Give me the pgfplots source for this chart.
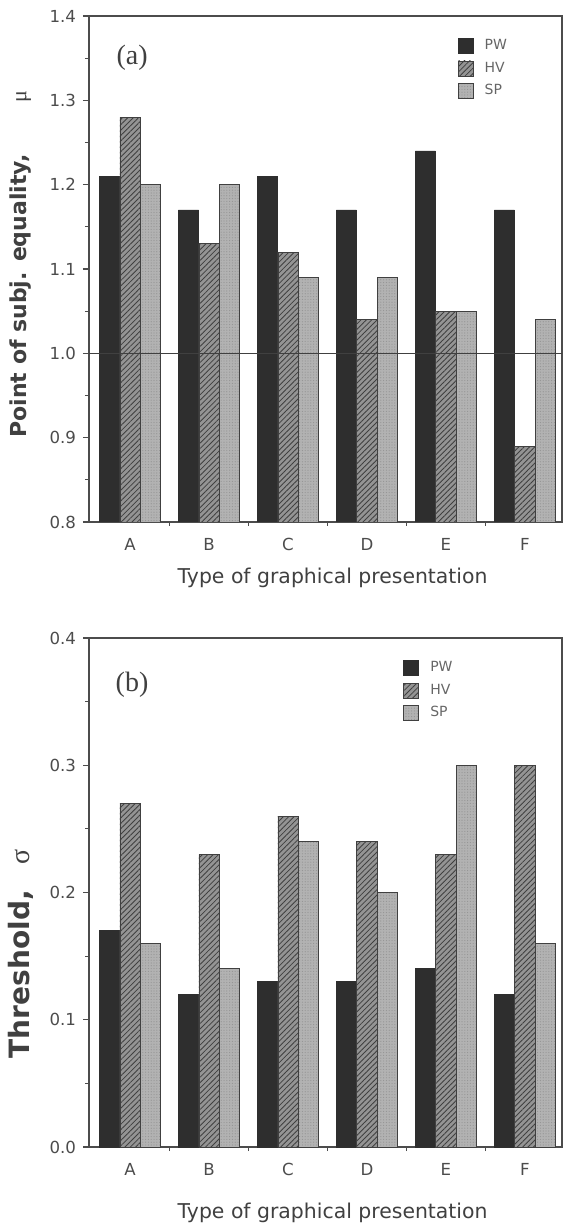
\documentclass[border=0pt]{standalone}
\usepackage{fontspec}
\setmainfont{DejaVu Sans}
\setsansfont{DejaVu Sans}
\newfontfamily\serif{Liberation Serif}
\usepackage{pgfplots}
\usepackage{pgfplotstable}
\pgfplotsset{compat=1.18}
\usetikzlibrary{patterns.meta}

\pgfplotstableread{
x pw hv sp
0 1.21 1.28 1.20
1 1.17 1.13 1.20
2 1.21 1.12 1.09
3 1.17 1.04 1.09
4 1.24 1.05 1.05
5 1.17 0.89 1.04
}\tabA

\pgfplotstableread{
x pw hv sp
0 0.17 0.27 0.16
1 0.12 0.23 0.14
2 0.13 0.26 0.24
3 0.13 0.24 0.20
4 0.14 0.23 0.30
5 0.12 0.30 0.16
}\tabB

\pgfplotsset{
  mylegend/.style={legend image code/.code={\draw[##1] (0pt,-3.75pt) rectangle (7.5pt,3.75pt); \path (11pt,0pt);}},
  pwbar/.style={ybar, bar width=0.255, bar shift=-0.26, fill=black!82, draw=black!82, line width=0.4pt, mylegend},
  hvbar/.style={ybar, bar width=0.255, bar shift=0, fill=black!42, draw=black!75, line width=0.4pt,
     postaction={pattern={Lines[angle=45,distance=1.9pt,line width=0.42pt]}, pattern color=black!75}, mylegend},
  spbar/.style={ybar, bar width=0.255, bar shift=0.26, fill=black!30, draw=black!75, line width=0.4pt,
     postaction={pattern={Dots[distance=1.4pt,radius=0.3pt]}, pattern color=black!42}, mylegend},
  myaxis/.style={
    scale only axis, width=236.5pt,
    xmin=-0.52, xmax=5.47,
    xtick={0,...,5}, xticklabels={A,B,C,D,E,F},
    minor xtick={0.5,1.5,2.5,3.5,4.5},
    minor y tick num=1,
    tick align=outside, tick pos=left,
    major tick length=3pt, minor tick length=2pt,
    axis line style={black!70, line width=0.7pt},
    tick style={black!70, line width=0.6pt},
    major x tick style={draw=none},
    tick label style={font=\fontsize{8.3}{9}\selectfont, text=black!70},
    xticklabel style={anchor=center, yshift=-8pt},
    /pgf/number format/assume math mode=true,
    yticklabel style={/pgf/number format/.cd, fixed, fixed zerofill, precision=1},
    xlabel={Type of graphical presentation},
    xlabel style={font=\fontsize{10.2}{12}\selectfont, text=black!75, anchor=center},
    ylabel style={font=\fontsize{11}{13}\selectfont\bfseries, text=black!75, anchor=center},
    legend style={draw=none, fill=none, inner sep=0pt, row sep=0.5pt,
      font=\fontsize{7}{7.5}\selectfont, text=black!60},
    legend cell align=left,
  }
}

\begin{document}
\begin{tikzpicture}
\useasboundingbox (0,0) rectangle (282pt,614.5pt);

\begin{axis}[myaxis,
  at={(44.5pt,353.5pt)}, anchor=south west, height=253pt,
  ymin=0.8, ymax=1.4, ytick={0.8,0.9,...,1.41},
  xlabel style={at={(axis description cs:0.515,0)}, yshift=-28pt},
  ylabel={Point of subj. equality,\hspace{26pt}{\mdseries\serif μ}},
  ylabel style={at={(axis description cs:-0.145,0.51)}},
  legend style={at={(axis description cs:0.779,0.962)}, anchor=north west},
]
\addplot[pwbar] table[x=x,y=pw]{\tabA};
\addplot[hvbar] table[x=x,y=hv]{\tabA};
\addplot[spbar] table[x=x,y=sp]{\tabA};
\addplot[sharp plot, black!75, line width=0.5pt, forget plot] coordinates {(-0.52,1) (5.47,1)};
\legend{PW,HV,SP}
\node[text=black!75] at (axis description cs:0.091,0.917) {\serif\fontsize{14}{14}\selectfont (a)};
\end{axis}

\begin{axis}[myaxis,
  at={(44.5pt,41pt)}, anchor=south west, height=254.5pt,
  ymin=0, ymax=0.4, ytick={0,0.1,...,0.41},
  xlabel style={at={(axis description cs:0.515,0)}, yshift=-33pt},
  ylabel={Threshold,\hspace{13pt}{\mdseries\serif σ}},
  ylabel style={at={(axis description cs:-0.145,0.38)}, font=\fontsize{14}{15}\selectfont\bfseries},
  legend style={at={(axis description cs:0.664,0.962)}, anchor=north west},
]
\addplot[pwbar] table[x=x,y=pw]{\tabB};
\addplot[hvbar] table[x=x,y=hv]{\tabB};
\addplot[spbar] table[x=x,y=sp]{\tabB};
\legend{PW,HV,SP}
\node[text=black!75] at (axis description cs:0.091,0.908) {\serif\fontsize{14}{14}\selectfont (b)};
\end{axis}
\end{tikzpicture}
\end{document}
